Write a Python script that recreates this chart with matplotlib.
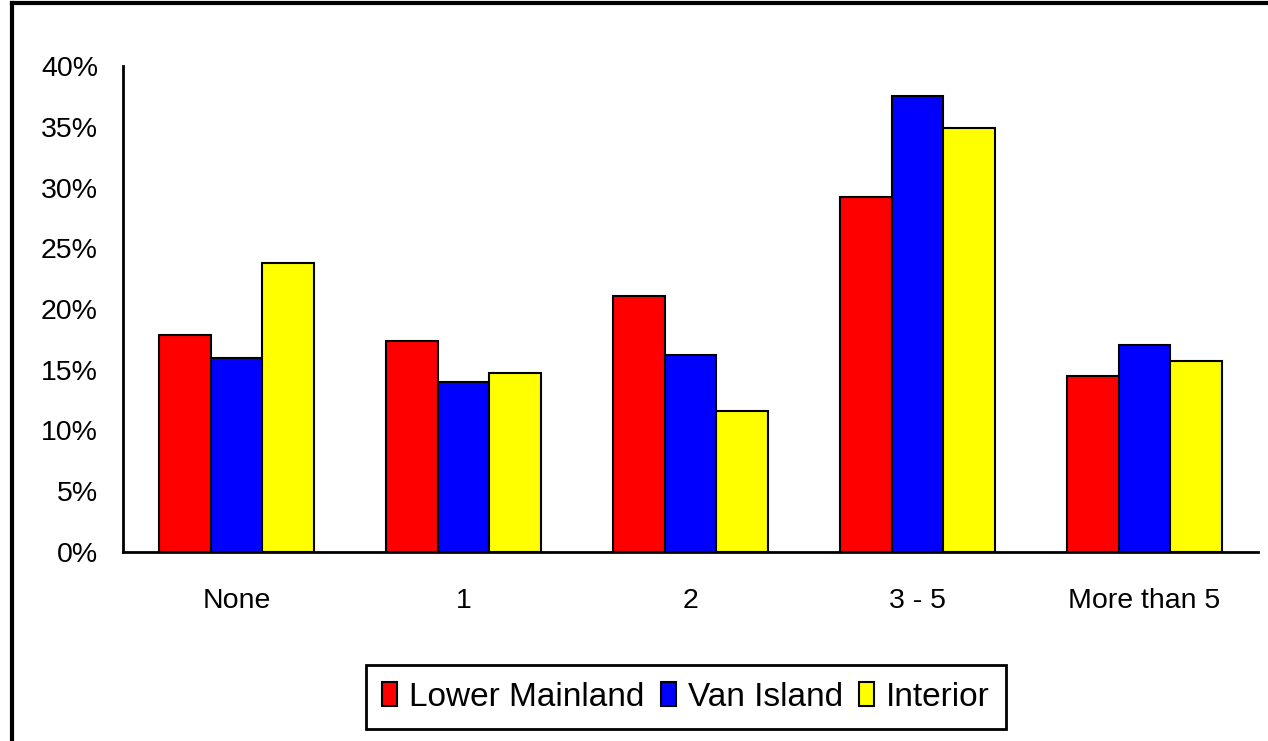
import matplotlib
matplotlib.use("Agg")
import matplotlib.pyplot as plt
from matplotlib.lines import Line2D
from matplotlib.patches import Patch
import numpy as np

plt.rcParams['font.family'] = ['Liberation Sans', 'DejaVu Sans']

categories = ["None", "1", "2", "3 - 5", "More than 5"]
series_names = ["Lower Mainland", "Van Island", "Interior"]
lower_mainland = [17.9, 17.4, 21.1, 29.2, 14.5]
van_island = [16.0, 14.0, 16.2, 37.5, 17.0]
interior = [23.8, 14.7, 11.6, 34.9, 15.7]
colors = ["#ff0000", "#0000ff", "#ffff00"]
yticks = [0, 5, 10, 15, 20, 25, 30, 35, 40]

W, H = 1268, 741
fig = plt.figure(figsize=(W / 100, H / 100), dpi=100)
ax = fig.add_axes([123 / W, (H - 552) / H, (1258 - 123) / W, (552 - 66) / H])

x = np.arange(len(categories))
bw = 0.229
for i, (vals, c) in enumerate(zip([lower_mainland, van_island, interior], colors)):
    ax.bar(x + (i - 1) * bw, vals, width=bw, color=c, edgecolor="black", linewidth=1.5, zorder=3)

ax.set_xlim(-0.5, len(categories) - 0.5)
ax.set_ylim(0, 40)
ax.set_yticks(yticks)
ax.set_yticklabels([f"{t}%" for t in yticks])
ax.set_xticks(x)
ax.set_xticklabels(categories)
ax.tick_params(axis="y", length=0, pad=18, labelsize=20.5)
ax.tick_params(axis="x", length=0, pad=26, labelsize=20.5)
for s in ["top", "right"]:
    ax.spines[s].set_visible(False)
for s in ["left", "bottom"]:
    ax.spines[s].set_linewidth(2)
    ax.spines[s].set_color("black")

# figure border (partially visible)
fig.add_artist(Line2D([12 / W, 1.0], [(H - 3) / H, (H - 3) / H], color="black", lw=3, transform=fig.transFigure))
fig.add_artist(Line2D([12 / W, 12 / W], [0, (H - 3) / H], color="black", lw=3, transform=fig.transFigure))

handles = [Patch(facecolor=c, edgecolor="black", linewidth=1.5) for c in colors]
leg = fig.legend(handles, series_names, loc="center", bbox_to_anchor=(686 / W, (H - 697) / H),
                 ncol=3, fontsize=24, frameon=True, fancybox=False, edgecolor="black",
                 framealpha=1, handlelength=0.45, handleheight=0.7, handletextpad=0.35,
                 columnspacing=0.5, borderpad=0.5, borderaxespad=0)
leg.get_frame().set_linewidth(2)

fig.savefig("out.png", dpi=100)
